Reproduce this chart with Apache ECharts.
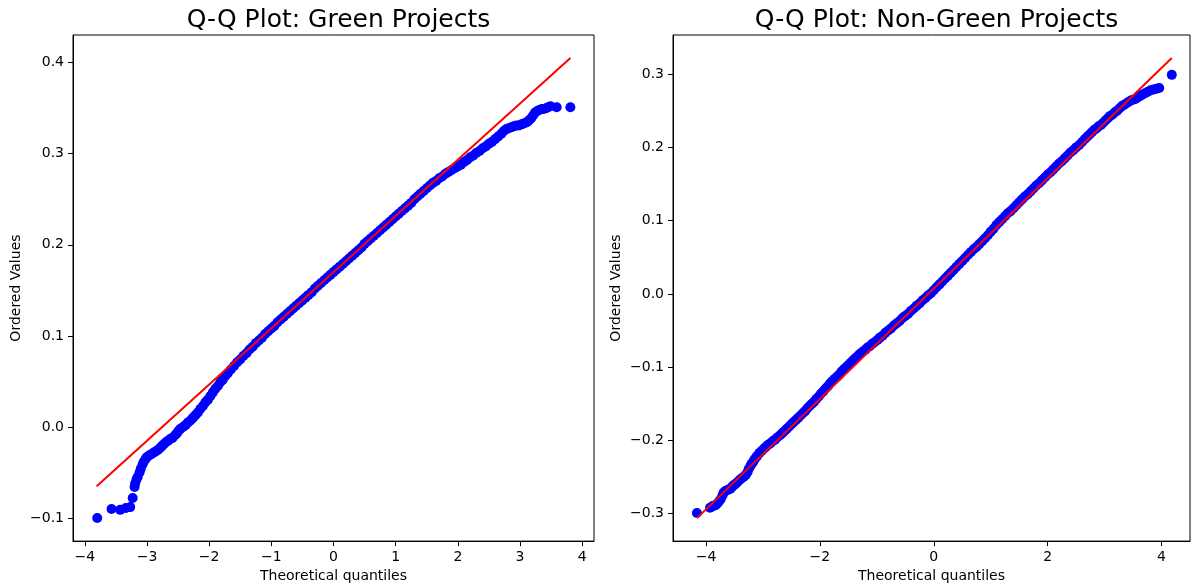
<!DOCTYPE html>
<html>
<head>
<meta charset="utf-8">
<title>Q-Q Plots</title>
<script src="https://cdn.jsdelivr.net/npm/echarts@6/dist/echarts.min.js"></script>
<style>
  html, body { margin: 0; padding: 0; background: #fff; }
  #chart { width: 1196px; height: 588px; }
</style>
</head>
<body>
<div id="chart"></div>
<script>
// Green projects: theoretical quantiles and ordered values
const greenQ = [
  -3.80, -3.57, -3.43, -3.34, -3.27, -3.23, -3.20, -3.19, -3.17, -3.15,
  -3.12, -3.10, -3.07, -3.05, -3.02, -3.00, -2.96, -2.93, -2.89, -2.86,
  -2.82, -2.79, -2.76, -2.73, -2.70, -2.66, -2.62, -2.59, -2.55, -2.52,
  -2.49, -2.46, -2.42, -2.38, -2.34, -2.30, -2.26, -2.22, -2.18, -2.14,
  -2.10, -2.06, -2.02, -1.98, -1.94, -1.90, -1.86, -1.82, -1.78, -1.74,
  -1.70, -1.65, -1.60, -1.55, -1.50, -1.45, -1.40, -1.35, -1.30, -1.25,
  -1.20, -1.15, -1.10, -1.05, -1.00, -0.95, -0.90, -0.85, -0.80, -0.75,
  -0.70, -0.65, -0.60, -0.55, -0.50, -0.45, -0.40, -0.35, -0.30, -0.25,
  -0.20, -0.15, -0.10, -0.05, 0.00, 0.05, 0.10, 0.15, 0.20, 0.25,
  0.30, 0.35, 0.40, 0.45, 0.50, 0.55, 0.60, 0.65, 0.70, 0.75,
  0.80, 0.85, 0.90, 0.95, 1.00, 1.05, 1.10, 1.15, 1.20, 1.25,
  1.30, 1.35, 1.40, 1.45, 1.50, 1.55, 1.60, 1.65, 1.70, 1.75,
  1.80, 1.85, 1.90, 1.95, 2.00, 2.05, 2.10, 2.15, 2.20, 2.25,
  2.30, 2.35, 2.40, 2.45, 2.50, 2.55, 2.60, 2.65, 2.70, 2.74,
  2.78, 2.82, 2.86, 2.90, 2.94, 2.98, 3.02, 3.05, 3.09, 3.12,
  3.15, 3.18, 3.21, 3.24, 3.28, 3.31, 3.35, 3.38, 3.42, 3.45,
  3.49, 3.59, 3.81
];
const greenV = [
  -0.100, -0.090, -0.091, -0.089, -0.088, -0.078, -0.066, -0.062, -0.058, -0.055,
  -0.050, -0.046, -0.041, -0.038, -0.035, -0.033, -0.031, -0.030, -0.028, -0.027,
  -0.025, -0.023, -0.021, -0.019, -0.017, -0.015, -0.013, -0.012, -0.009, -0.007,
  -0.004, -0.002, 0.000, 0.002, 0.005, 0.007, 0.010, 0.013, 0.016, 0.020,
  0.023, 0.027, 0.030, 0.034, 0.038, 0.042, 0.045, 0.049, 0.052, 0.056,
  0.059, 0.063, 0.067, 0.071, 0.074, 0.078, 0.081, 0.085, 0.088, 0.092,
  0.095, 0.098, 0.102, 0.105, 0.108, 0.111, 0.115, 0.118, 0.121, 0.124,
  0.127, 0.130, 0.133, 0.136, 0.139, 0.142, 0.145, 0.148, 0.152, 0.155,
  0.158, 0.161, 0.164, 0.167, 0.170, 0.173, 0.176, 0.179, 0.182, 0.185,
  0.188, 0.191, 0.194, 0.197, 0.201, 0.204, 0.207, 0.210, 0.213, 0.216,
  0.219, 0.222, 0.225, 0.228, 0.231, 0.234, 0.237, 0.240, 0.243, 0.246,
  0.250, 0.253, 0.256, 0.259, 0.262, 0.265, 0.268, 0.270, 0.273, 0.275,
  0.278, 0.280, 0.282, 0.284, 0.286, 0.288, 0.291, 0.293, 0.296, 0.298,
  0.301, 0.303, 0.306, 0.308, 0.311, 0.313, 0.316, 0.319, 0.322, 0.325,
  0.327, 0.328, 0.329, 0.330, 0.331, 0.331, 0.332, 0.333, 0.334, 0.335,
  0.337, 0.339, 0.342, 0.345, 0.347, 0.348, 0.349, 0.349, 0.350, 0.351,
  0.352, 0.351, 0.351
];
// Least-squares reference line end points (green)
const greenFitQ = [-3.81, 3.81];
const greenFitV = [-0.065, 0.405];

// Non-green projects: theoretical quantiles and ordered values
const nonGreenQ = [
  -4.16, -3.93, -3.89, -3.86, -3.83, -3.80, -3.77, -3.74, -3.71, -3.69,
  -3.66, -3.63, -3.60, -3.57, -3.54, -3.51, -3.48, -3.45, -3.41, -3.38,
  -3.34, -3.30, -3.27, -3.25, -3.22, -3.20, -3.17, -3.15, -3.12, -3.10,
  -3.06, -3.02, -2.98, -2.95, -2.91, -2.87, -2.83, -2.79, -2.75, -2.70,
  -2.66, -2.62, -2.58, -2.54, -2.50, -2.46, -2.42, -2.38, -2.34, -2.30,
  -2.26, -2.22, -2.18, -2.14, -2.10, -2.06, -2.02, -1.98, -1.94, -1.90,
  -1.86, -1.82, -1.78, -1.74, -1.70, -1.66, -1.62, -1.58, -1.54, -1.50,
  -1.46, -1.42, -1.38, -1.34, -1.30, -1.25, -1.20, -1.16, -1.12, -1.08,
  -1.04, -0.99, -0.95, -0.90, -0.85, -0.80, -0.75, -0.70, -0.65, -0.60,
  -0.55, -0.50, -0.45, -0.40, -0.35, -0.30, -0.25, -0.20, -0.15, -0.10,
  -0.05, 0.00, 0.05, 0.10, 0.15, 0.20, 0.25, 0.30, 0.35, 0.40,
  0.45, 0.50, 0.55, 0.60, 0.65, 0.70, 0.75, 0.80, 0.85, 0.90,
  0.95, 1.00, 1.05, 1.10, 1.15, 1.20, 1.25, 1.30, 1.35, 1.40,
  1.45, 1.50, 1.55, 1.60, 1.65, 1.70, 1.75, 1.80, 1.85, 1.90,
  1.95, 2.00, 2.05, 2.10, 2.15, 2.20, 2.25, 2.30, 2.35, 2.40,
  2.45, 2.50, 2.55, 2.60, 2.65, 2.70, 2.74, 2.78, 2.82, 2.86,
  2.90, 2.94, 2.98, 3.02, 3.06, 3.10, 3.14, 3.18, 3.22, 3.26,
  3.30, 3.34, 3.38, 3.42, 3.46, 3.50, 3.54, 3.58, 3.62, 3.66,
  3.71, 3.76, 3.81, 3.86, 3.91, 3.96, 4.18
];
const nonGreenV = [
  -0.299, -0.292, -0.290, -0.289, -0.288, -0.286, -0.283, -0.280, -0.275, -0.271,
  -0.269, -0.268, -0.267, -0.266, -0.263, -0.261, -0.259, -0.257, -0.254, -0.252,
  -0.250, -0.247, -0.243, -0.239, -0.235, -0.232, -0.229, -0.226, -0.223, -0.221,
  -0.217, -0.214, -0.211, -0.209, -0.206, -0.204, -0.201, -0.199, -0.196, -0.193,
  -0.190, -0.187, -0.184, -0.181, -0.178, -0.175, -0.172, -0.169, -0.166, -0.163,
  -0.160, -0.156, -0.153, -0.150, -0.147, -0.143, -0.140, -0.136, -0.133, -0.129,
  -0.126, -0.122, -0.119, -0.116, -0.113, -0.110, -0.106, -0.103, -0.100, -0.097,
  -0.094, -0.091, -0.088, -0.085, -0.082, -0.079, -0.076, -0.073, -0.071, -0.068,
  -0.066, -0.063, -0.060, -0.057, -0.053, -0.050, -0.047, -0.043, -0.040, -0.037,
  -0.033, -0.030, -0.027, -0.023, -0.020, -0.016, -0.013, -0.009, -0.006, -0.002,
  0.001, 0.005, 0.009, 0.013, 0.017, 0.021, 0.025, 0.029, 0.033, 0.037,
  0.041, 0.045, 0.049, 0.053, 0.057, 0.061, 0.064, 0.068, 0.072, 0.076,
  0.080, 0.085, 0.089, 0.094, 0.098, 0.102, 0.106, 0.110, 0.113, 0.117,
  0.121, 0.125, 0.129, 0.133, 0.136, 0.140, 0.144, 0.148, 0.151, 0.155,
  0.159, 0.163, 0.166, 0.170, 0.174, 0.178, 0.181, 0.185, 0.189, 0.193,
  0.196, 0.200, 0.203, 0.207, 0.211, 0.215, 0.218, 0.221, 0.224, 0.226,
  0.229, 0.231, 0.234, 0.237, 0.240, 0.243, 0.245, 0.248, 0.250, 0.253,
  0.256, 0.258, 0.260, 0.262, 0.264, 0.265, 0.266, 0.268, 0.270, 0.272,
  0.274, 0.276, 0.278, 0.279, 0.280, 0.281, 0.299
];
// Least-squares reference line end points (non-green)
const nonGreenFitQ = [-4.16, 4.18];
const nonGreenFitV = [-0.306, 0.322];

// Tick labels
const greenXTicks = [-4, -3, -2, -1, 0, 1, 2, 3, 4];
const greenYTicks = [-0.1, 0.0, 0.1, 0.2, 0.3, 0.4];
const nonGreenXTicks = [-4, -2, 0, 2, 4];
const nonGreenYTicks = [-0.3, -0.2, -0.1, 0.0, 0.1, 0.2, 0.3];

const titles = ['Q-Q Plot: Green Projects', 'Q-Q Plot: Non-Green Projects'];
const xName = 'Theoretical quantiles';
const yName = 'Ordered Values';

const FONT = 'DejaVu Sans';
const INK = '#000';

function pairs(xs, ys) {
  return xs.map((x, i) => [x, ys[i]]);
}
function fmtInt(v) {
  return (v < 0 ? '\u2212' : '') + Math.abs(v).toFixed(0);
}
function fmtOne(v) {
  return (v < -1e-9 ? '\u2212' : '') + Math.abs(v).toFixed(1);
}

function xAxisFor(gridIndex, min, max, ticks) {
  return {
    type: 'value', gridIndex, min, max,
    name: xName, nameLocation: 'middle', nameGap: 27,
    nameTextStyle: { fontFamily: FONT, fontSize: 14, color: INK },
    axisLine: { show: true, onZero: false, lineStyle: { color: INK, width: 1 } },
    axisTick: { show: true, length: 5, inside: false, customValues: ticks,
                lineStyle: { color: INK, width: 1 } },
    axisLabel: { show: true, margin: 9, customValues: ticks, formatter: fmtInt,
                 fontFamily: FONT, fontSize: 14, color: INK },
    splitLine: { show: false }
  };
}
function yAxisFor(gridIndex, min, max, ticks) {
  return {
    type: 'value', gridIndex, min, max,
    name: yName, nameLocation: 'middle', nameGap: 50, nameRotate: 90,
    nameTextStyle: { fontFamily: FONT, fontSize: 14, color: INK },
    axisLine: { show: true, onZero: false, lineStyle: { color: INK, width: 1 } },
    axisTick: { show: true, length: 5, inside: false, customValues: ticks,
                lineStyle: { color: INK, width: 1 } },
    axisLabel: { show: true, margin: 9, customValues: ticks, formatter: fmtOne,
                 fontFamily: FONT, fontSize: 14, color: INK },
    splitLine: { show: false }
  };
}

const chart = echarts.init(document.getElementById('chart'), null, { renderer: 'canvas' });

const option = {
  animation: false,
  backgroundColor: '#fff',
  title: [
    { text: titles[0], left: 333.5, top: 3, textAlign: 'center',
      textStyle: { fontFamily: FONT, fontSize: 25, fontWeight: 'normal', color: INK } },
    { text: titles[1], left: 931.5, top: 3, textAlign: 'center',
      textStyle: { fontFamily: FONT, fontSize: 25, fontWeight: 'normal', color: INK } }
  ],
  grid: [
    { left: 73, top: 35, width: 521, height: 508, show: true,
      borderColor: INK, borderWidth: 1, backgroundColor: 'transparent' },
    { left: 673, top: 35, width: 517, height: 508, show: true,
      borderColor: INK, borderWidth: 1, backgroundColor: 'transparent' }
  ],
  xAxis: [
    xAxisFor(0, -4.19, 4.19, greenXTicks),
    xAxisFor(1, -4.58, 4.50, nonGreenXTicks)
  ],
  yAxis: [
    yAxisFor(0, -0.1253, 0.4303, greenYTicks),
    yAxisFor(1, -0.3374, 0.3534, nonGreenYTicks)
  ],
  series: [
    { type: 'scatter', xAxisIndex: 0, yAxisIndex: 0, data: pairs(greenQ, greenV),
      symbol: 'circle', symbolSize: 10, itemStyle: { color: '#0000ff', opacity: 1 }, z: 2 },
    { type: 'line', xAxisIndex: 0, yAxisIndex: 0, data: pairs(greenFitQ, greenFitV),
      showSymbol: false, lineStyle: { color: '#ff0000', width: 2 }, z: 3 },
    { type: 'scatter', xAxisIndex: 1, yAxisIndex: 1, data: pairs(nonGreenQ, nonGreenV),
      symbol: 'circle', symbolSize: 10, itemStyle: { color: '#0000ff', opacity: 1 }, z: 2 },
    { type: 'line', xAxisIndex: 1, yAxisIndex: 1, data: pairs(nonGreenFitQ, nonGreenFitV),
      showSymbol: false, lineStyle: { color: '#ff0000', width: 2 }, z: 3 }
  ]
};

chart.setOption(option);
</script>
</body>
</html>
